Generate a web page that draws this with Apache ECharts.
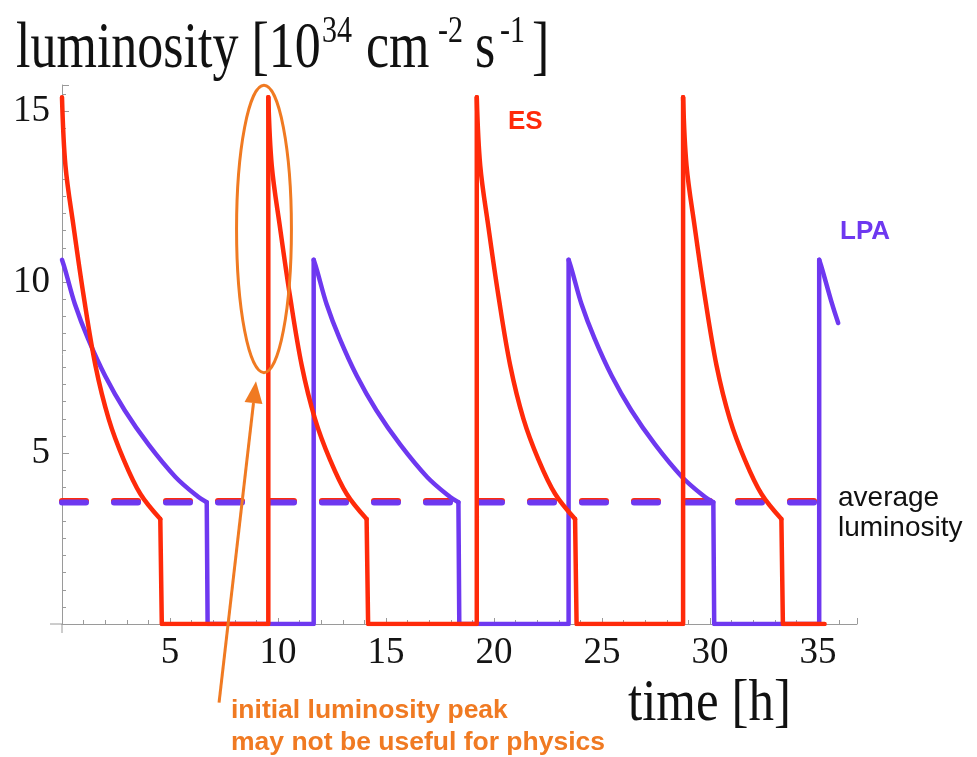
<!DOCTYPE html>
<html>
<head>
<meta charset="utf-8">
<script src="https://cdn.jsdelivr.net/npm/echarts@6/dist/echarts.min.js"></script>
<style>
  html, body { margin: 0; padding: 0; background: #ffffff; }
  #chart { width: 977px; height: 757px; }
</style>
</head>
<body>
<div id="chart"></div>
<script>
// ES scheme: luminosity during one fill (hours after injection, 10^34 cm^-2 s^-1)
const esFillHours = [0, 0.16, 0.54, 1.0, 1.55, 2.16, 2.86, 3.63, 4.55];
const esFillLumi  = [15.4, 13.4, 11.6, 9.6, 7.55, 6.0, 4.8, 3.8, 3.07];
const esFillStarts = [0, 9.55, 19.2, 28.75];
const esDumpTime = 0.07;      // time taken by the beam dump
const esRunEnd = 35.3;

// LPA scheme: luminosity during one fill
const lpaFillHours = [0, 0.15, 0.6, 1.2, 2.0, 2.9, 4.0, 5.25, 6.3, 6.7];
const lpaFillLumi  = [10.65, 10.35, 9.35, 8.35, 7.25, 6.25, 5.25, 4.3, 3.72, 3.56];
const lpaFillStarts = [0, 11.65, 23.45, 35.05];
const lpaDumpTime = 0.04;
const lpaLastPoint = [35.93, 8.8];

// average luminosity of both schemes
const avgLumiES = 3.6;
const avgLumiLPA = 3.55;
const avgSpan = [0, 35.2];

// axis ticks
const xTickLabels = [5, 10, 15, 20, 25, 30, 35];
const yTickLabels = [5, 10, 15];

const RED = '#ff2a0a';
const PURPLE = '#6e38f0';
const ORANGE = '#f07a22';

// decaying part of every fill, one segment per fill (null separates them)
function buildDecays(hours, lumi, starts, lastPoint) {
  const pts = [];
  starts.forEach(function (s, i) {
    const last = i === starts.length - 1;
    for (let k = 0; k < hours.length; k++) {
      const t = s + hours[k];
      if (last && lastPoint && t >= lastPoint[0]) break;
      pts.push([t, lumi[k]]);
    }
    if (last && lastPoint) pts.push(lastPoint);
    pts.push(null);
  });
  return pts;
}

// beam dump, idle time at zero and the refill jump between fills
function buildSwitches(hours, lumi, starts, dumpTime, runEnd) {
  const pts = [];
  const n = hours.length - 1;
  starts.forEach(function (s, i) {
    const next = starts[i + 1];
    const endT = s + hours[n];
    if (next !== undefined) {
      if (endT >= next) return;
      pts.push([endT, lumi[n]], [endT + dumpTime, 0], [next, 0], [next, lumi[0]], null);
    } else if (runEnd !== null) {
      pts.push([endT, lumi[n]], [endT + dumpTime, 0], [runEnd, 0], null);
    }
  });
  return pts;
}

const esDecay = buildDecays(esFillHours, esFillLumi, esFillStarts, null);
const esSwitch = buildSwitches(esFillHours, esFillLumi, esFillStarts, esDumpTime, esRunEnd);
const lpaDecay = buildDecays(lpaFillHours, lpaFillLumi, lpaFillStarts, lpaLastPoint);
const lpaSwitch = buildSwitches(lpaFillHours, lpaFillLumi, lpaFillStarts, lpaDumpTime, null);

const chart = echarts.init(document.getElementById('chart'), null, { renderer: 'canvas' });

const axisGray = '#9a9a9a';
const tickFont = { fontFamily: 'Liberation Serif', fontSize: 37, color: '#141414' };

function curve(name, data, color, smooth) {
  return {
    name: name, type: 'line', showSymbol: false, silent: true, connectNulls: false,
    data: data, smooth: smooth,
    lineStyle: { color: color, width: 4.5, join: 'round', cap: 'round' }
  };
}

chart.setOption({
  animation: false,
  backgroundColor: '#ffffff',
  grid: { left: 62, right: 120, top: 85, bottom: 133, containLabel: false },
  xAxis: {
    type: 'value', min: 0, max: 36.8, interval: 5,
    axisLine: { show: true, lineStyle: { color: axisGray, width: 1 } },
    axisTick: { show: true, inside: true, length: 6, lineStyle: { color: axisGray } },
    minorTick: { show: true, splitNumber: 5, length: 4, lineStyle: { color: axisGray } },
    splitLine: { show: false },
    axisLabel: Object.assign({
      margin: 11, interval: 0, showMinLabel: false, showMaxLabel: false,
      formatter: function (v) { return xTickLabels.indexOf(v) >= 0 ? String(v) : ''; }
    }, tickFont)
  },
  yAxis: {
    type: 'value', min: 0, max: 15.76, interval: 5,
    axisLine: { show: true, lineStyle: { color: axisGray, width: 1 } },
    axisTick: { show: true, inside: true, length: 7, lineStyle: { color: axisGray } },
    minorTick: { show: true, splitNumber: 10, length: 4, lineStyle: { color: axisGray } },
    splitLine: { show: false },
    axisLabel: Object.assign({
      margin: 12, showMinLabel: false, showMaxLabel: false,
      formatter: function (v) { return yTickLabels.indexOf(v) >= 0 ? String(v) : ''; }
    }, tickFont)
  },
  series: [
    {
      name: 'ES average', type: 'line', showSymbol: false, silent: true,
      data: [[avgSpan[0], avgLumiES], [avgSpan[1], avgLumiES]],
      lineStyle: { color: RED, width: 6, type: [24, 28], cap: 'round' }
    },
    {
      name: 'LPA average', type: 'line', showSymbol: false, silent: true,
      data: [[avgSpan[0], avgLumiLPA], [avgSpan[1], avgLumiLPA]],
      lineStyle: { color: PURPLE, width: 6, type: [24, 28], cap: 'round' }
    },
    curve('LPA', lpaDecay, PURPLE, 0.35),
    curve('LPA switching', lpaSwitch, PURPLE, false),
    curve('ES', esDecay, RED, 0.35),
    curve('ES switching', esSwitch, RED, false)
  ]
});

// ---- annotations and titles ----
function px(t, v) { return chart.convertToPixel({ gridIndex: 0 }, [t, v]); }

// text placed by its baseline, optionally stretched vertically
function label(str, x, baseline, size, family, opts) {
  opts = opts || {};
  const sy = opts.scaleY || 1;
  const yMid = baseline - 0.3 * size * sy;
  return {
    type: 'text', x: x, y: yMid, scaleX: 1, scaleY: sy, originX: 0, originY: 0,
    silent: true, z: 100,
    style: {
      text: str, x: 0, y: 0,
      font: (opts.weight || 'normal') + ' ' + size + 'px ' + family,
      fill: opts.color || '#111111', align: 'left', verticalAlign: 'middle'
    }
  };
}

const serif = "'Liberation Serif', 'Times New Roman', serif";
const sans = "'Liberation Sans', Arial, sans-serif";

const origin = px(0, 0);
const peakCenter = px(9.35, 11.55);
const peakEdge = px(9.35 + 1.27, 11.55 + 4.2);
const arrowTip = px(8.98, 7.1);
const arrowBase = px(7.27, -2.3);

// arrow head geometry
const adx = arrowTip[0] - arrowBase[0], ady = arrowTip[1] - arrowBase[1];
const alen = Math.sqrt(adx * adx + ady * ady);
const ux = adx / alen, uy = ady / alen;
const headLen = 22, headHalf = 9;
const headBase = [arrowTip[0] - ux * headLen, arrowTip[1] - uy * headLen];

const graphics = [
  // axis overhangs past the origin
  { type: 'line', silent: true, shape: { x1: origin[0] - 12, y1: origin[1], x2: origin[0], y2: origin[1] },
    style: { stroke: axisGray, lineWidth: 1 } },
  { type: 'line', silent: true, shape: { x1: origin[0], y1: origin[1], x2: origin[0], y2: origin[1] + 9 },
    style: { stroke: axisGray, lineWidth: 1 } },
  // highlighted initial peak
  { type: 'ellipse', silent: true, z: 90,
    shape: { cx: peakCenter[0], cy: peakCenter[1], rx: peakEdge[0] - peakCenter[0], ry: peakCenter[1] - peakEdge[1] },
    style: { stroke: ORANGE, lineWidth: 3, fill: null } },
  { type: 'line', silent: true, z: 90,
    shape: { x1: arrowBase[0], y1: arrowBase[1], x2: headBase[0], y2: headBase[1] },
    style: { stroke: ORANGE, lineWidth: 3 } },
  { type: 'polygon', silent: true, z: 90,
    shape: { points: [
      arrowTip,
      [headBase[0] - uy * headHalf, headBase[1] + ux * headHalf],
      [headBase[0] + uy * headHalf, headBase[1] - ux * headHalf]
    ] },
    style: { fill: ORANGE } },
  // y axis title
  label('luminosity [10', 16, 69, 52, serif, { scaleY: 1.28 }),
  label('34', 322, 43, 30, serif, { scaleY: 1.28 }),
  label('cm', 366, 69, 52, serif, { scaleY: 1.28 }),
  label('-2', 438, 43, 30, serif, { scaleY: 1.28 }),
  label('s', 475, 69, 52, serif, { scaleY: 1.28 }),
  label('-1', 500, 43, 30, serif, { scaleY: 1.28 }),
  label(']', 532, 69, 52, serif, { scaleY: 1.28 }),
  // x axis title
  label('time [h]', 628, 722, 51, serif, { scaleY: 1.15 }),
  // series names
  label('ES', 508, 130, 26, sans, { weight: 'bold', color: RED }),
  label('LPA', 840, 240, 26, sans, { weight: 'bold', color: PURPLE }),
  label('average', 838, 507, 28, sans, { color: '#111111' }),
  label('luminosity', 838, 537, 28, sans, { color: '#111111' }),
  label('initial luminosity peak', 231, 719, 26.5, sans, { weight: 'bold', color: ORANGE }),
  label('may not be useful for physics', 231, 751, 26.5, sans, { weight: 'bold', color: ORANGE })
];

chart.setOption({ graphic: graphics });
</script>
</body>
</html>
